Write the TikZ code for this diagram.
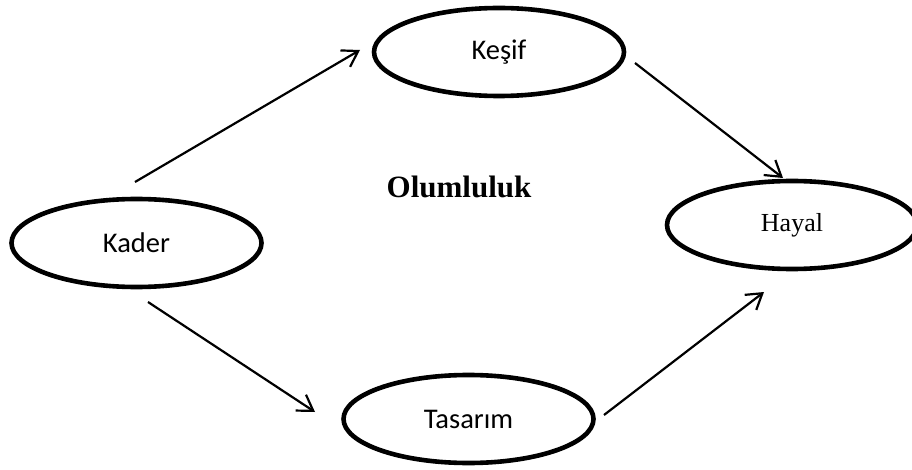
\documentclass[tikz,border=0pt]{standalone}
\usepackage{fontspec}
\setmainfont{Liberation Serif}
\newfontfamily\calibrifont{Carlito}
\usetikzlibrary{shapes.geometric,arrows.meta}
\begin{document}
\begin{tikzpicture}[x=1pt,y=-1pt,
  oval/.style={ellipse,draw,line width=4.6pt,minimum width=250pt,minimum height=88pt,inner sep=0pt},
  flow/.style={line width=2.2pt,-{Straight Barb[length=15pt,width=19pt,line width=2.2pt]}}]
  \useasboundingbox (0,0) rectangle (912,470);
  % states
  \node[oval,font=\calibrifont\fontsize{28.5}{32}\selectfont] (kesif) at (499,52) {Keşif};
  \node[oval,font=\calibrifont\fontsize{28.5}{32}\selectfont] (kader) at (136.5,243) {Kader};
  \node[oval,font=\calibrifont\fontsize{28.5}{32}\selectfont] (tasarim) at (468.5,419) {Tasarım};
  \node[oval,font=\fontsize{26}{30}\selectfont] (hayal) at (792,225) {Hayal};
  \node[font=\bfseries\fontsize{31}{36}\selectfont] (olum) at (459,187) {Olumluluk};
  % free ends of the connectors
  \coordinate (a1) at (135,182); \coordinate (a2) at (360,50);
  \coordinate (b1) at (635,63);  \coordinate (b2) at (783,178);
  \coordinate (c1) at (148,302); \coordinate (c2) at (315,412);
  \coordinate (d1) at (604,415); \coordinate (d2) at (764,292);
  \draw[flow] (a1) -- (a2);
  \draw[flow] (b1) -- (b2);
  \draw[flow] (c1) -- (c2);
  \draw[flow] (d1) -- (d2);
\end{tikzpicture}
\end{document}
